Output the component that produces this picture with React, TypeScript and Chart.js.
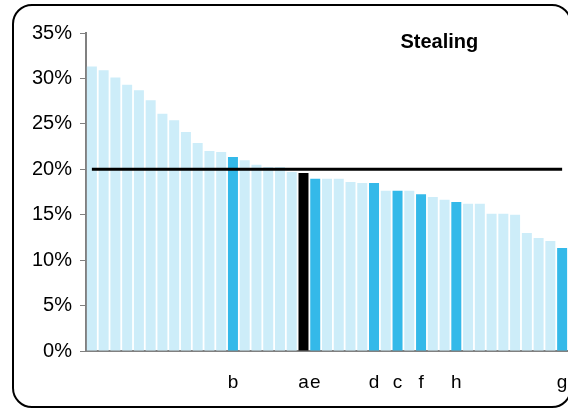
import React, { useEffect, useRef } from 'react';
import { Chart, registerables } from 'chart.js';

Chart.register(...registerables);

// Category labels (only the highlighted bars carry a label)
const categories: string[] = [
  '', '', '', '', '', '', '', '', '', '', '', '', 'b', '', '', '', '', '', 'a', 'e',
  '', '', '', '', 'd', '', 'c', '', 'f', '', '', 'h', '', '', '', '', '', '', '', '', 'g',
];

// Values in percent
const values: number[] = [
  31.3, 30.9, 30.1, 29.3, 28.7, 27.6, 26.1, 25.4, 24.1, 22.9, 22.0, 21.9, 21.35, 21.0,
  20.5, 20.25, 20.25, 19.7, 19.6, 18.95, 18.95, 18.95, 18.6, 18.5, 18.5, 17.65, 17.65,
  17.65, 17.25, 16.95, 16.65, 16.4, 16.2, 16.2, 15.1, 15.1, 15.0, 13.0, 12.45, 12.1, 11.35,
];

const threshold = 20;
const yMin = 0;
const yMax = 35;
const yStep = 5;
const chartTitle = 'Stealing';
const focusLabel = 'a';

const FONT = '"Liberation Sans", Arial, Helvetica, sans-serif';
const LIGHT = '#cdedf9';
const BLUE = '#34b9e9';
const AXIS = '#808080';

export default function App() {
  const ref = useRef<HTMLCanvasElement>(null);

  useEffect(() => {
    const canvas = ref.current;
    if (!canvas) return;

    const colors = categories.map((c) =>
      c === focusLabel ? '#000000' : c !== '' ? BLUE : LIGHT
    );

    const overlay = {
      id: 'overlay',
      afterDatasetsDraw(chart: any) {
        const { ctx, scales } = chart;
        const xs = scales.x;
        const ys = scales.y;
        const y = ys.getPixelForValue(threshold);
        const x0 = xs.getPixelForValue(0);
        const x1 = xs.getPixelForValue(categories.length - 1);
        ctx.save();
        ctx.strokeStyle = '#000';
        ctx.lineWidth = 3;
        ctx.beginPath();
        ctx.moveTo(x0, y);
        ctx.lineTo(x1, y);
        ctx.stroke();
        ctx.restore();
      },
      afterDraw(chart: any) {
        const { ctx, chartArea } = chart;
        ctx.save();
        ctx.font = `bold 20px ${FONT}`;
        ctx.fillStyle = '#000';
        ctx.textAlign = 'center';
        ctx.textBaseline = 'alphabetic';
        const cx = chartArea.left + (chartArea.right - chartArea.left) * 0.733;
        ctx.fillText(chartTitle, cx, chartArea.top + 15);
        ctx.restore();
      },
    };

    const chart = new Chart(canvas, {
      type: 'bar',
      data: {
        labels: categories,
        datasets: [
          {
            data: values,
            backgroundColor: colors,
            borderWidth: 0,
            barPercentage: 0.85,
            categoryPercentage: 1,
          },
        ],
      },
      options: {
        responsive: false,
        maintainAspectRatio: false,
        animation: false,
        layout: { padding: { top: 33, left: 0, right: 0, bottom: 0 } },
        plugins: {
          legend: { display: false },
          tooltip: { enabled: false },
          title: { display: false },
        },
        scales: {
          x: {
            type: 'category',
            offset: true,
            grid: { display: false, drawTicks: false },
            border: { display: true, color: AXIS, width: 2 },
            ticks: {
              autoSkip: false,
              maxRotation: 0,
              minRotation: 0,
              padding: 20,
              color: '#000',
              font: { size: 19, family: FONT },
            },
            afterFit: (s: any) => {
              s.height = 59;
              s.paddingLeft = 0;
              s.paddingRight = 0;
            },
          },
          y: {
            min: yMin,
            max: yMax,
            grid: {
              display: true,
              drawOnChartArea: false,
              drawTicks: true,
              tickLength: 6,
              color: AXIS,
              lineWidth: 1,
            },
            border: { display: true, color: AXIS, width: 2 },
            ticks: {
              stepSize: yStep,
              padding: 8,
              color: '#000',
              font: { size: 20, family: FONT },
              callback: (v: any) => `${v}%`,
            },
            afterFit: (s: any) => {
              s.width = 86;
            },
          },
        },
      },
      plugins: [overlay],
    });

    return () => chart.destroy();
  }, []);

  return (
    <div
      style={{
        position: 'fixed',
        left: 0,
        top: 0,
        width: 568,
        height: 410,
        overflow: 'hidden',
        background: '#fff',
      }}
    >
      <canvas ref={ref} width={568} height={410} style={{ width: 568, height: 410, display: 'block' }} />
      <div
        style={{
          position: 'absolute',
          left: 12,
          top: 4,
          width: 560,
          height: 404,
          boxSizing: 'border-box',
          border: '2px solid #000',
          borderRadius: 20,
          pointerEvents: 'none',
        }}
      />
    </div>
  );
}
